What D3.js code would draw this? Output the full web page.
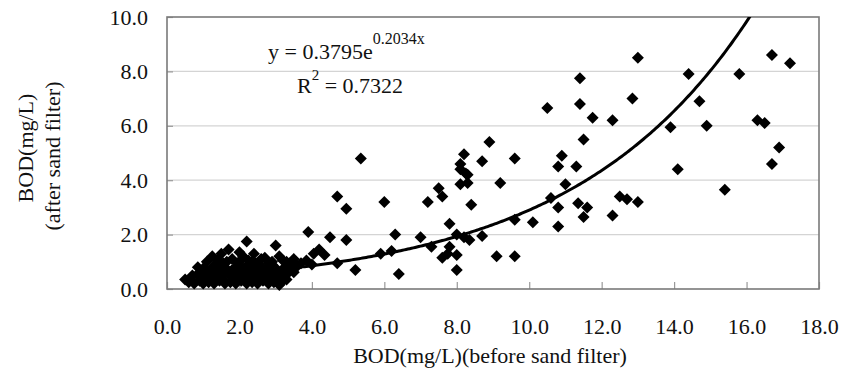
<!DOCTYPE html>
<html>
<head>
<meta charset="utf-8">
<script src="https://cdn.jsdelivr.net/npm/d3@7"></script>
<style>
  body { margin: 0; background: #fff; }
</style>
</head>
<body>
<svg id="stage" width="843" height="379" font-family="Liberation Serif, DejaVu Serif, serif"></svg>
<script>
var svg = d3.select("#stage");

var serif = "'Liberation Serif', 'Times New Roman', 'DejaVu Serif', serif";

// data: BOD before / after sand filter
var bodBefore = [
  // dense cluster
  0.5, 0.6, 0.75, 0.9, 1.0, 1.15, 1.3, 1.45, 1.6, 1.75, 1.9, 2.05, 2.2, 2.35, 2.5, 2.65, 2.8, 2.95, 3.1, 3.2,
  0.65, 0.95, 1.25, 1.55, 1.85, 2.15, 2.45, 2.75, 3.05, 3.3,
  0.7, 0.85, 1.0, 1.2, 1.35, 1.5, 1.7, 1.85, 2.0, 2.15, 2.3, 2.5, 2.7, 2.85, 3.0, 3.2, 3.35,
  0.95, 1.25, 1.55, 1.9, 2.2, 2.55, 2.85, 3.15, 3.5,
  0.85, 1.0, 1.1, 1.3, 1.45, 1.6, 1.8, 1.95, 2.1, 2.25, 2.4, 2.6, 2.75, 2.9, 3.05, 3.25, 3.45, 3.6,
  1.35, 1.65, 1.95, 2.35, 2.8, 3.3,
  1.1, 1.25, 1.4, 1.55, 1.7, 1.8, 2.0, 2.1, 2.25, 2.45, 2.6, 2.7, 2.9, 3.1, 3.2, 3.4, 3.5, 3.7, 3.85, 4.0, 4.05,
  2.2, 3.0, 3.9, 2.4, 2.0, 1.5,
  // 4 - 8
  4.2, 4.35, 4.5, 4.7, 4.7, 4.95, 4.95, 5.2, 5.35, 5.9, 6.0, 6.2, 6.3, 6.4, 7.0, 7.2, 7.3,
  7.5, 7.6, 7.6, 7.75, 7.8, 7.8, 8.0, 8.0, 8.0,
  // 8 - 10
  8.1, 8.1, 8.2, 8.25, 8.3, 8.1, 8.3, 8.4, 8.2, 8.35, 8.7, 8.7, 8.9, 9.1, 9.2, 9.6, 9.6, 9.6,
  // 10 - 13
  10.1, 10.5, 10.6, 10.8, 10.8, 10.8, 10.9, 11.0, 11.3, 11.35, 11.4, 11.4, 11.5, 11.5, 11.6, 11.75,
  12.3, 12.3, 12.5, 12.7, 12.85, 13.0, 13.0,
  // 13 - 18
  13.9, 14.1, 14.4, 14.7, 14.9, 15.4, 15.8, 16.3, 16.5, 16.7, 16.7, 16.9, 17.2
];
var bodAfter = [
  0.35, 0.25, 0.2, 0.3, 0.2, 0.25, 0.2, 0.3, 0.2, 0.25, 0.2, 0.3, 0.2, 0.25, 0.2, 0.3, 0.2, 0.25, 0.15, 0.3,
  0.4, 0.38, 0.4, 0.35, 0.4, 0.38, 0.4, 0.35, 0.4, 0.35,
  0.5, 0.55, 0.45, 0.5, 0.6, 0.45, 0.55, 0.5, 0.6, 0.45, 0.55, 0.5, 0.6, 0.45, 0.55, 0.5, 0.6,
  0.65, 0.68, 0.62, 0.65, 0.68, 0.65, 0.68, 0.65, 0.62,
  0.8, 0.75, 0.7, 0.85, 0.75, 0.8, 0.7, 0.85, 0.75, 0.9, 0.7, 0.8, 0.75, 0.9, 0.7, 0.8, 0.75, 0.85,
  0.9, 1.0, 0.95, 1.0, 0.95, 1.0,
  1.0, 1.2, 1.05, 0.95, 1.45, 1.1, 1.0, 1.2, 1.05, 0.95, 1.1, 1.15, 1.0, 1.2, 1.05, 0.95, 1.1, 0.95, 1.05, 0.9, 1.3,
  1.75, 1.6, 2.1, 1.3, 1.35, 1.3,
  1.45, 1.25, 1.9, 3.4, 0.95, 2.95, 1.8, 0.7, 4.8, 1.3, 3.2, 1.4, 2.0, 0.55, 1.9, 3.2, 1.55,
  3.7, 3.4, 1.15, 1.3, 2.4, 1.55, 2.0, 1.25, 0.7,
  4.6, 4.4, 4.95, 4.25, 4.2, 3.85, 3.9, 3.1, 1.9, 1.8, 4.7, 1.95, 5.4, 1.2, 3.9, 4.8, 2.55, 1.2,
  2.45, 6.65, 3.35, 4.5, 3.0, 2.3, 4.9, 3.85, 4.5, 3.15, 7.75, 6.8, 5.5, 2.65, 3.0, 6.3,
  6.2, 2.7, 3.4, 3.3, 7.0, 8.5, 3.2,
  5.95, 4.4, 7.9, 6.9, 6.0, 3.65, 7.9, 6.2, 6.1, 8.6, 4.6, 5.2, 8.3
];

var xTicks = [0, 2, 4, 6, 8, 10, 12, 14, 16, 18];
var yTicks = [0, 2, 4, 6, 8, 10];

// trendline from the chart: y = 0.3795 e^(0.2034x)
var fitA = 0.3795, fitB = 0.2034;

var points = bodBefore.map(function(d, i){ return {x: d, y: bodAfter[i]}; });

var plot = {left: 167, right: 819, top: 17, bottom: 289};

var x = d3.scaleLinear().domain([0, 18]).range([plot.left, plot.right]);
var y = d3.scaleLinear().domain([0, 10]).range([plot.bottom, plot.top]);

svg.append("rect").attr("width", 843).attr("height", 379).attr("fill", "#fff");

// gridlines
svg.append("g")
  .selectAll("line")
  .data(yTicks.filter(function(d){ return d > 0 && d < 10; }))
  .enter().append("line")
    .attr("x1", plot.left).attr("x2", plot.right)
    .attr("y1", function(d){ return y(d); }).attr("y2", function(d){ return y(d); })
    .attr("stroke", "#d4d4d4").attr("stroke-width", 1.3);

// x axis ticks (inside) + labels
var xAxis = d3.axisBottom(x).tickValues(xTicks).tickSize(-7).tickPadding(29)
  .tickFormat(d3.format(".1f"));
var gx = svg.append("g").attr("transform", "translate(0," + plot.bottom + ")").call(xAxis);
gx.attr("font-family", serif);
gx.select(".domain").remove();
gx.selectAll(".tick line").attr("stroke", "#999").attr("stroke-width", 1.2);
gx.selectAll(".tick text").attr("font-size", 22).attr("fill", "#111").attr("dy", "0.71em");

var yAxis = d3.axisLeft(y).tickValues(yTicks).tickSize(-6).tickPadding(19)
  .tickFormat(d3.format(".1f"));
var gy = svg.append("g").attr("transform", "translate(" + plot.left + ",0)").call(yAxis);
gy.attr("font-family", serif);
gy.select(".domain").remove();
gy.selectAll(".tick line").attr("stroke", "#999").attr("stroke-width", 1.2);
gy.selectAll(".tick text").attr("font-size", 22).attr("fill", "#111");

// plot frame
svg.append("rect")
  .attr("x", plot.left).attr("y", plot.top)
  .attr("width", plot.right - plot.left).attr("height", plot.bottom - plot.top)
  .attr("fill", "none").attr("stroke", "#7a7a7a").attr("stroke-width", 1.6);

svg.append("clipPath").attr("id", "clip")
  .append("rect")
    .attr("x", plot.left).attr("y", plot.top)
    .attr("width", plot.right - plot.left).attr("height", plot.bottom - plot.top);

// markers
var diamond = "M0,-6L6,0L0,6L-6,0Z";
svg.append("g")
  .selectAll("path")
  .data(points)
  .enter().append("path")
    .attr("d", diamond)
    .attr("transform", function(d){ return "translate(" + x(d.x) + "," + y(d.y) + ")"; })
    .attr("fill", "#000");

// trendline over data range
var xMin = d3.min(bodBefore), xMax = d3.max(bodBefore);
var curve = d3.range(xMin, xMax, 0.05).concat([xMax]).map(function(v){
  return {x: v, y: fitA * Math.exp(fitB * v)};
});
svg.append("path")
  .datum(curve)
  .attr("clip-path", "url(#clip)")
  .attr("fill", "none").attr("stroke", "#000").attr("stroke-width", 3)
  .attr("d", d3.line().x(function(d){ return x(d.x); }).y(function(d){ return y(d.y); }));

// equation
var eq = svg.append("text").attr("x", 268).attr("y", 59).attr("font-size", 22);
eq.append("tspan").text("y = 0.3795e");
eq.append("tspan").attr("font-size", 16).attr("dy", -15).text("0.2034x");

var r2 = svg.append("text").attr("x", 297).attr("y", 93).attr("font-size", 22);
r2.append("tspan").text("R");
r2.append("tspan").attr("font-size", 15).attr("dy", -13).text("2");
r2.append("tspan").attr("dy", 13).text(" = 0.7322");

// axis titles
svg.append("text")
  .attr("x", 490).attr("y", 363)
  .attr("text-anchor", "middle").attr("font-size", 22)
  .text("BOD(mg/L)(before sand filter)");

svg.append("text")
  .attr("transform", "translate(33,148) rotate(-90)")
  .attr("text-anchor", "middle").attr("font-size", 22)
  .text("BOD(mg/L)");
svg.append("text")
  .attr("transform", "translate(60,156) rotate(-90)")
  .attr("text-anchor", "middle").attr("font-size", 22)
  .text("(after sand filter)");

svg.selectAll("text").style("font-family", serif).style("fill", "#111");
</script>
</body>
</html>
